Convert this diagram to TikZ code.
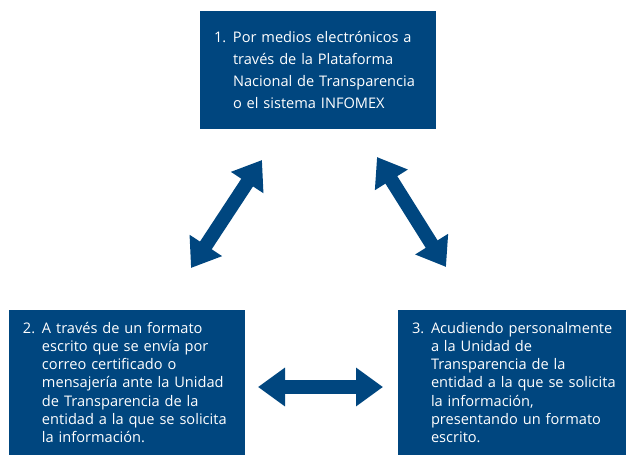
\documentclass[tikz,border=0pt]{standalone}
\usepackage{fontspec}
\setmainfont{Open Sans}
\usepackage{tikz}
\usetikzlibrary{arrows.meta}
\definecolor{navy}{RGB}{0, 70, 127}
\newcommand{\hang}[1]{\makebox[19pt][l]{#1}}
\newcommand{\nohang}{\hspace*{19pt}}

\begin{document}
\begin{tikzpicture}[x=1pt, y=-1pt,
    box/.style={fill=navy, text=white, inner sep=0pt, inner xsep=14pt,
      minimum width=236pt, text width=208pt, align=left},
    biarrow/.style={navy, line width=14pt,
      {Triangle[width=37pt, length=27pt]}-{Triangle[width=37pt, length=27pt]}}]

  \useasboundingbox (0, 0) rectangle (626, 455);

  \node[box, minimum height=118pt, font=\fontsize{14.6}{21.7}\selectfont]
    (web) at (318, 70)
    {\hang{1.}Por medios electrónicos a\\ \nohang través de la Plataforma\\
     \nohang Nacional de Transparencia\\ \nohang o el sistema INFOMEX};

  \node[box, minimum height=145pt, font=\fontsize{14.6}{18.3}\selectfont]
    (mail) at (127, 382.5)
    {\hang{2.}A través de un formato\\ \nohang escrito que se envía por\\
     \nohang correo certificado o\\ \nohang mensajería ante la Unidad\\
     \nohang de Transparencia de la\\ \nohang entidad a la que se solicita\\
     \nohang la información.};

  % runs past the right edge of the page
  \node[box, minimum height=145pt, font=\fontsize{14.6}{18.3}\selectfont]
    (visit) at (516, 382.5)
    {\hang{3.}Acudiendo personalmente\\ \nohang a la Unidad de\\
     \nohang Transparencia de la\\ \nohang entidad a la que se solicita\\
     \nohang la información,\\ \nohang presentando un formato\\
     \nohang escrito.};

  \coordinate (webL) at (262, 160);
  \coordinate (mailT) at (191, 268);
  \coordinate (webR) at (377, 157);
  \coordinate (visitT) at (446, 267);
  \coordinate (mailR) at (258, 387);
  \coordinate (visitL) at (383, 387);

  \draw[biarrow] (mailT) -- (webL);
  \draw[biarrow] (webR) -- (visitT);
  \draw[biarrow] (mailR) -- (visitL);

\end{tikzpicture}
\end{document}
